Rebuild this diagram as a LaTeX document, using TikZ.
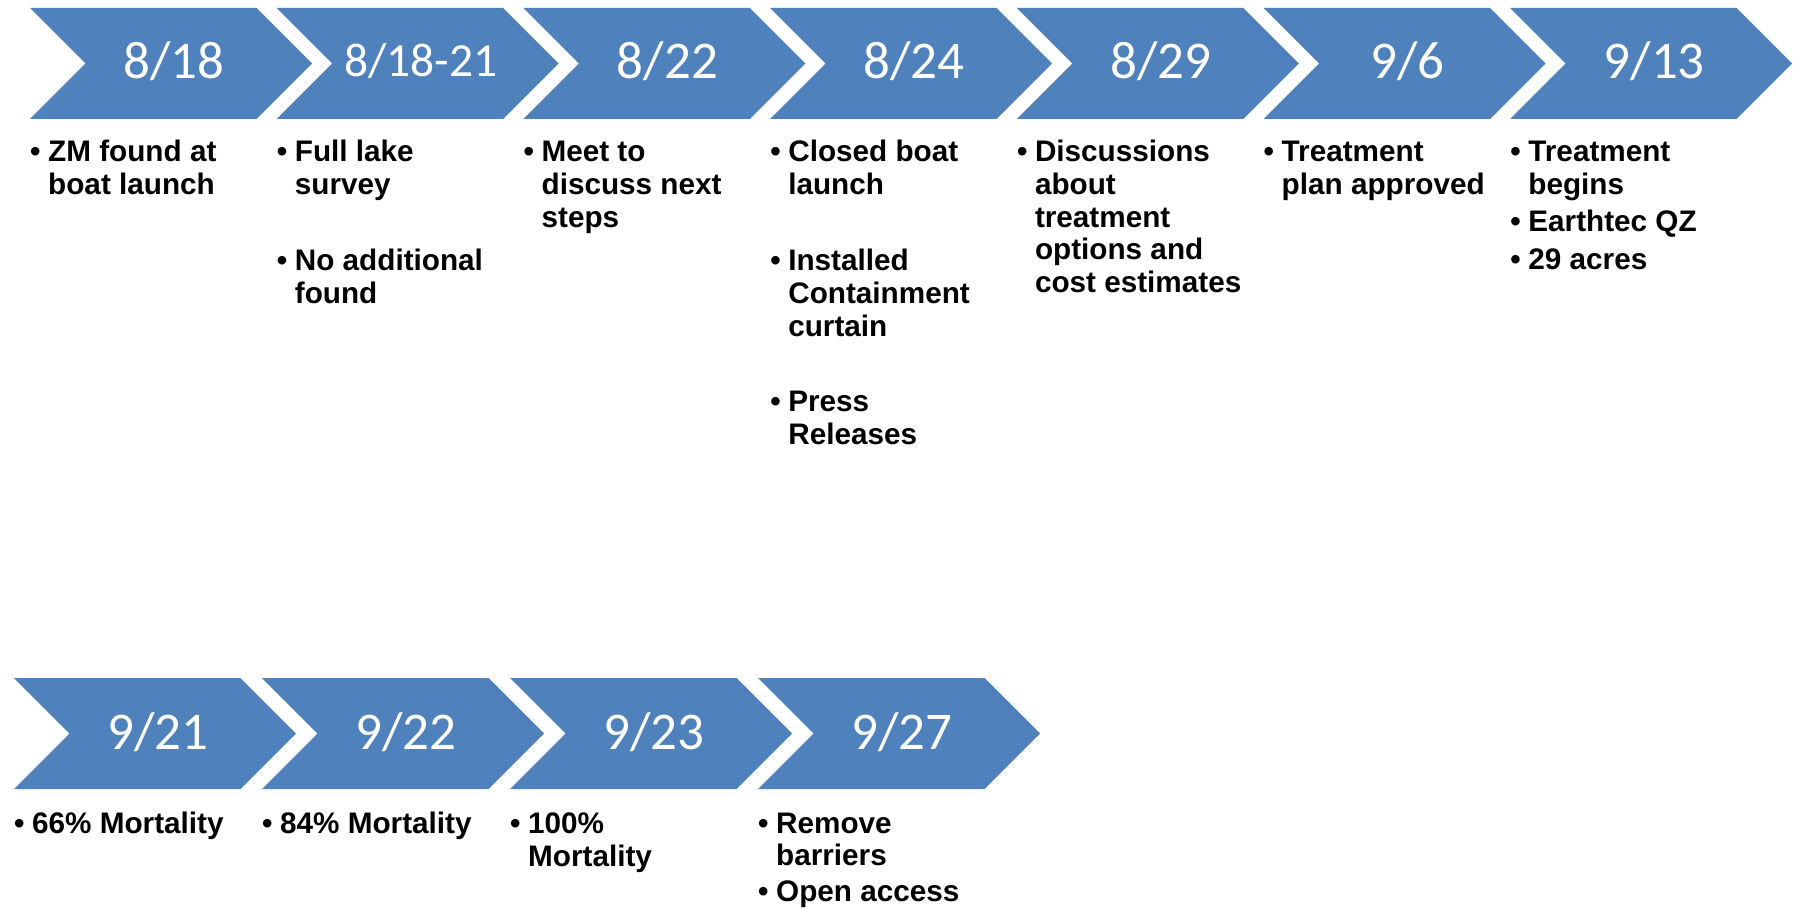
\documentclass[tikz,border=0pt]{standalone}
\usepackage{fontspec}
\setmainfont{Carlito}
\newfontfamily\bulletfam{Liberation Sans}
\definecolor{chevblue}{HTML}{4F81BD}
\tikzset{
  chev/.style={fill=chevblue, draw=none},
  datelbl/.style={text=white, font=\fontsize{53}{60}\selectfont, inner sep=0pt, anchor=base},
  bl/.style={font=\bulletfam\bfseries\fontsize{29.7}{33}\selectfont, inner sep=0pt, anchor=base west, text=black}
}
\newcommand\chevshape[2]{%
  \fill[chev] (#1,#2) -- ++(226.5,0) -- ++(55.5,55.5) -- ++(-55.5,55.5) -- ++(-226.5,0) -- ++(55.5,-55.5) -- cycle;}
\newcommand\chevron[4]{%
  \chevshape{#2}{#3}
  \node[datelbl] (#1) at ({#2+144},{#3+71}) {#4};}
\newcommand\bitem[4]{%
  \node[bl] (#1b) at (#2,#3) {\textbullet};
  \node[bl] (#1) at ({#2+18},#3) {#4};}
\newcommand\bcont[4]{%
  \node[bl] (#1) at ({#2+18},#3) {#4};}
\begin{document}
\begin{tikzpicture}[x=1pt,y=-1pt]
\useasboundingbox (0,0) rectangle (1795,909);
% top row
\chevron{d1}{30}{8}{8/18}
\chevshape{276.7}{8}
\node[datelbl, font=\fontsize{47.5}{52}\selectfont] (d2) at ({276.7+144},{8+68.7}) {8/18-21};
\chevron{d3}{523.4}{8}{8/22}
\chevron{d4}{770.1}{8}{8/24}
\chevron{d5}{1016.8}{8}{8/29}
\chevron{d6}{1263.5}{8}{9/6}
\chevron{d7}{1510.2}{8}{9/13}
% bottom row
\chevron{e1}{14}{678}{9/21}
\chevron{e2}{262}{678}{9/22}
\chevron{e3}{510}{678}{9/23}
\chevron{e4}{758}{678}{9/27}
% 8/18
\bitem{a1}{30}{162}{ZM found at}
\bcont{a1l2}{30}{194.7}{boat launch}
% 8/18-21
\bitem{a2}{276.7}{162}{Full lake}
\bcont{a2l2}{276.7}{194.7}{survey}
\bitem{a2p}{276.7}{270.7}{No additional}
\bcont{a2pl2}{276.7}{303.4}{found}
% 8/22
\bitem{a3}{523.4}{162}{Meet to}
\bcont{a3l2}{523.4}{194.7}{discuss next}
\bcont{a3l3}{523.4}{227.4}{steps}
% 8/24
\bitem{a4}{770.1}{162}{Closed boat}
\bcont{a4l2}{770.1}{194.7}{launch}
\bitem{a4p}{770.1}{270.7}{Installed}
\bcont{a4pl2}{770.1}{303.4}{Containment}
\bcont{a4pl3}{770.1}{336}{curtain}
\bitem{a4q}{770.1}{411.5}{Press}
\bcont{a4ql2}{770.1}{444}{Releases}
% 8/29
\bitem{a5}{1016.8}{162}{Discussions}
\bcont{a5l2}{1016.8}{194.7}{about}
\bcont{a5l3}{1016.8}{227.4}{treatment}
\bcont{a5l4}{1016.8}{260}{options and}
\bcont{a5l5}{1016.8}{292.7}{cost estimates}
% 9/6
\bitem{a6}{1263.5}{162}{Treatment}
\bcont{a6l2}{1263.5}{194.7}{plan approved}
% 9/13
\bitem{a7}{1510.2}{162}{Treatment}
\bcont{a7l2}{1510.2}{194.7}{begins}
\bitem{a7p}{1510.2}{231.7}{Earthtec QZ}
\bitem{a7q}{1510.2}{269.3}{29 acres}
% bottom texts
\bitem{c1}{14}{833}{66\% Mortality}
\bitem{c2}{262}{833}{84\% Mortality}
\bitem{c3}{510}{833}{100\%}
\bcont{c3l2}{510}{866.5}{Mortality}
\bitem{c4}{758}{833}{Remove}
\bcont{c4l2}{758}{865.5}{barriers}
\bitem{c4p}{758}{901.7}{Open access}
\end{tikzpicture}
\end{document}
